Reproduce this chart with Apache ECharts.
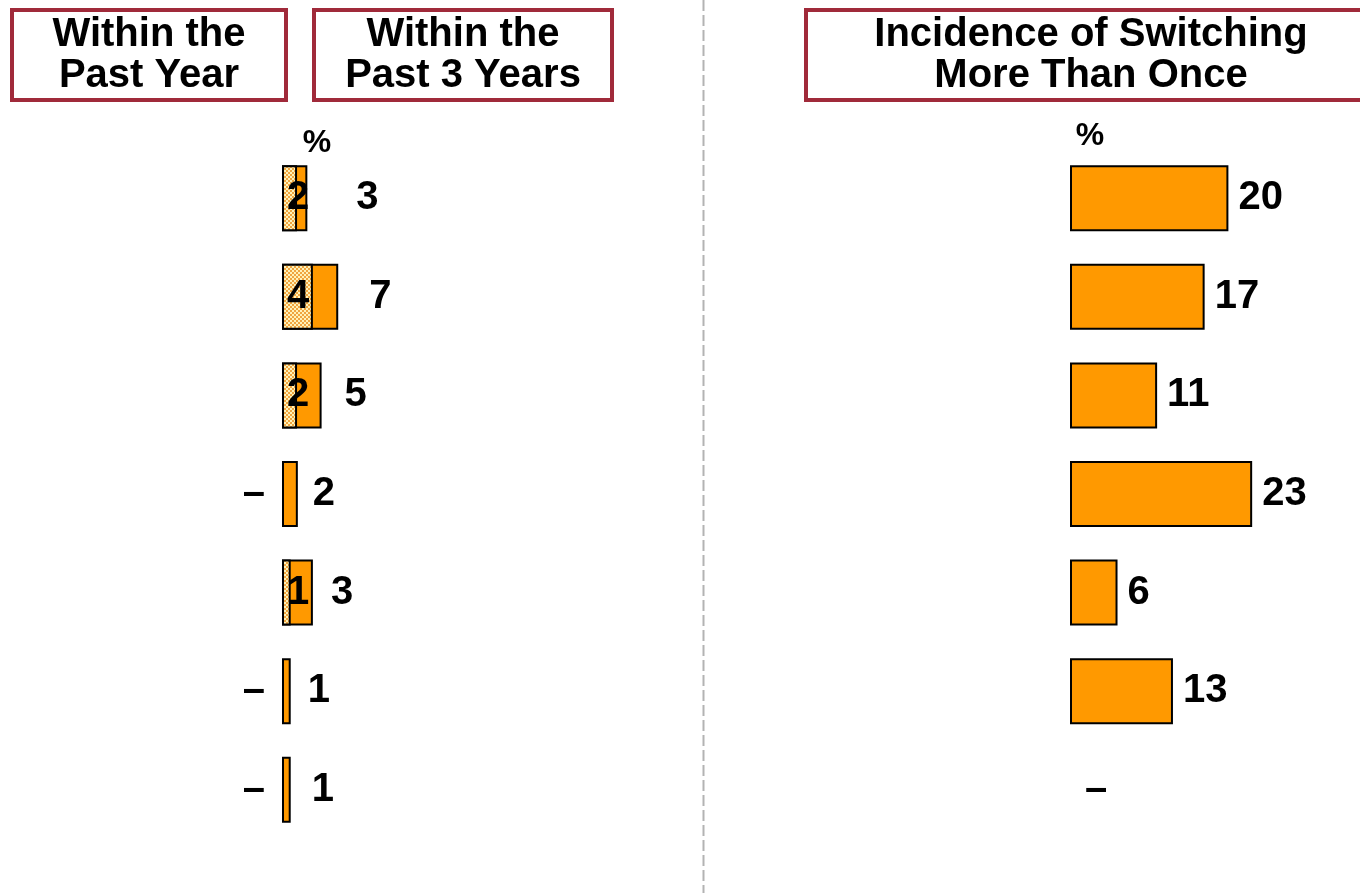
<!DOCTYPE html>
<html>
<head>
<meta charset="utf-8">
<script src="https://cdn.jsdelivr.net/npm/echarts@6/dist/echarts.min.js"></script>
<style>
  html, body { margin: 0; padding: 0; background: #fff; }
  #main { width: 1360px; height: 893px; }
</style>
</head>
<body>
<div id="main"></div>
<script>
// rows (category names are cut off in the source)
var categories = ['r1', 'r2', 'r3', 'r4', 'r5', 'r6', 'r7'];

// switched within the past 3 years (bar length) and the printed labels
var past3Years = [3.2, 7.1, 5.0, 2.0, 3.9, 1.1, 1.1];
var past3Labels = ['3', '7', '5', '2', '3', '1', '1'];

// switched within the past year (null = shown as dash)
var pastYear = [1.9, 3.9, 1.9, null, 1.1, null, null];
var pastYearLabels = ['2', '4', '2', '–', '1', '–', '–'];

// incidence of switching more than once
var moreThanOnce = [20, 17, 11, 23, 6, 13, null];

var FONT = '"Liberation Sans", Arial, sans-serif';
var ORANGE = '#FF9900';
var RED = '#A02A3A';

// checkered fill for the past-year bars
var pat = document.createElement('canvas');
pat.width = 4; pat.height = 4;
var pc = pat.getContext('2d');
pc.fillStyle = '#FFF2B8';
pc.fillRect(0, 0, 4, 4);
pc.fillStyle = '#F0A540';
pc.fillRect(0, 0, 2, 2);
pc.fillRect(2, 2, 2, 2);

// gaps between bar end and label, as in the slide
var gap3y = [49, 31, 23, 15, 18, 17, 21];

var labelBase = { fontSize: 40, fontWeight: 'bold', color: '#000', fontFamily: FONT };

var chart = echarts.init(document.getElementById('main'));

var p3Data = past3Years.map(function (v, i) {
  return {
    value: v,
    label: Object.assign({ show: true, position: 'right', distance: gap3y[i], formatter: past3Labels[i] }, labelBase)
  };
});

var pyData = pastYear.map(function (v, i) {
  if (v == null) {
    return {
      value: 0,
      itemStyle: { borderWidth: 0, color: 'transparent' },
      label: Object.assign({ show: true, position: 'left', distance: 17, formatter: pastYearLabels[i] }, labelBase)
    };
  }
  return {
    value: v,
    label: Object.assign({ show: true, position: [16, '50%'], align: 'center', verticalAlign: 'middle', formatter: pastYearLabels[i] }, labelBase)
  };
});

var motData = moreThanOnce.map(function (v) {
  if (v == null) {
    return {
      value: 0,
      itemStyle: { borderWidth: 0, color: 'transparent' },
      label: Object.assign({ show: true, position: 'right', distance: 15, formatter: '–' }, labelBase)
    };
  }
  return {
    value: v,
    label: Object.assign({ show: true, position: 'right', distance: 10, formatter: '{c}' }, labelBase)
  };
});

function headerBox(x, w, lines) {
  return [
    {
      type: 'rect',
      shape: { x: x, y: 10, width: w, height: 90 },
      style: { fill: '#fff', stroke: RED, lineWidth: 4 }
    },
    {
      type: 'text',
      x: x + w / 2, y: 55,
      style: {
        text: lines, fontSize: 40, fontWeight: 'bold', fontFamily: FONT, fill: '#000',
        align: 'center', verticalAlign: 'middle', lineHeight: 41
      }
    }
  ];
}

chart.setOption({
  animation: false,
  grid: [
    { left: 282, top: 149, width: 198, height: 690, outerBoundsMode: 'none' },
    { left: 1070, top: 149, width: 198, height: 690, outerBoundsMode: 'none' }
  ],
  xAxis: [
    { type: 'value', gridIndex: 0, min: 0, max: 25, show: false },
    { type: 'value', gridIndex: 1, min: 0, max: 25, show: false }
  ],
  yAxis: [
    { type: 'category', gridIndex: 0, data: categories, inverse: true, show: false },
    { type: 'category', gridIndex: 1, data: categories, inverse: true, show: false }
  ],
  series: [
    {
      name: 'Within the Past 3 Years', type: 'bar', xAxisIndex: 0, yAxisIndex: 0,
      barWidth: 66, barGap: '-100%',
      itemStyle: { color: ORANGE, borderColor: '#000', borderWidth: 2 },
      data: p3Data
    },
    {
      name: 'Within the Past Year', type: 'bar', xAxisIndex: 0, yAxisIndex: 0,
      barWidth: 66, barGap: '-100%',
      itemStyle: { color: { image: pat, repeat: 'repeat' }, borderColor: '#000', borderWidth: 2 },
      data: pyData
    },
    {
      name: 'Incidence of Switching More Than Once', type: 'bar', xAxisIndex: 1, yAxisIndex: 1,
      barWidth: 66,
      itemStyle: { color: ORANGE, borderColor: '#000', borderWidth: 2 },
      data: motData
    }
  ],
  graphic: [].concat(
    headerBox(12, 274, 'Within the\nPast Year'),
    headerBox(314, 298, 'Within the\nPast 3 Years'),
    headerBox(806, 570, 'Incidence of Switching\nMore Than Once'),
    [
      {
        type: 'line',
        shape: { x1: 703.5, y1: 0, x2: 703.5, y2: 893 },
        style: { stroke: '#b3b3b3', lineWidth: 2, lineDash: [11, 4] }
      },
      {
        type: 'text', x: 317, y: 143,
        style: { text: '%', fontSize: 32, fontWeight: 'bold', fontFamily: FONT, fill: '#000', align: 'center', verticalAlign: 'middle' }
      },
      {
        type: 'text', x: 1090, y: 136,
        style: { text: '%', fontSize: 32, fontWeight: 'bold', fontFamily: FONT, fill: '#000', align: 'center', verticalAlign: 'middle' }
      }
    ]
  )
});
</script>
</body>
</html>
